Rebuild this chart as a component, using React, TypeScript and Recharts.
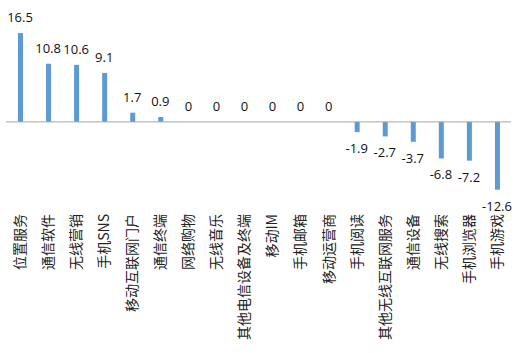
import React from 'react';
import { ComposedChart, Bar, Line, XAxis, YAxis, ReferenceLine } from 'recharts';

const categories = [
  '位置服务', '通信软件', '无线营销', '手机SNS', '移动互联网门户', '通信终端',
  '网络购物', '无线音乐', '其他电信设备及终端', '移动IM', '手机邮箱', '移动运营商',
  '手机阅读', '其他无线互联网服务', '通信设备', '无线搜索', '手机浏览器', '手机游戏',
];
const growth = [16.5, 10.8, 10.6, 9.1, 1.7, 0.9, 0, 0, 0, 0, 0, 0, -1.9, -2.7, -3.7, -6.8, -7.2, -12.6];

const data = categories.map((name, i) => ({ name, value: growth[i] }));

const CategoryTick = (props: any) => {
  const { x, y, payload } = props;
  return (
    <text
      x={x}
      y={y}
      transform={`rotate(-90, ${x}, ${y})`}
      textAnchor="end"
      dy="0.35em"
      fontSize={14}
      fill="#222"
      fontFamily="'Noto Sans CJK SC', 'Noto Sans', sans-serif"
    >
      {payload.value}
    </text>
  );
};

// labels hang off an invisible line so that zero values get one too
const ValueLabel = (props: any) => {
  const { x, y, value } = props;
  const ty = value >= 0 ? y - 11 : y + 21;
  return (
    <text x={x} y={ty} textAnchor="middle" fontSize={13} fill="#111" fontFamily="'Open Sans', sans-serif">
      {value}
    </text>
  );
};

export default function App() {
  return (
    <div style={{ position: 'absolute', left: 0, top: 0, background: '#fff' }}>
      <ComposedChart
        width={518}
        height={353}
        data={data}
        margin={{ top: 25, right: 7, bottom: 0, left: 6 }}
      >
        <YAxis hide domain={[-16, 18]} />
        <XAxis
          dataKey="name"
          axisLine={false}
          tickLine={false}
          tickSize={0}
          tickMargin={6}
          height={145}
          interval={0}
          tick={<CategoryTick />}
        />
        <ReferenceLine y={0} stroke="#a6a6a6" strokeWidth={1} />
        <Bar dataKey="value" fill="#5b9bd5" barSize={5} isAnimationActive={false} />
        <Line
          dataKey="value"
          stroke="none"
          dot={false}
          activeDot={false}
          label={<ValueLabel />}
          isAnimationActive={false}
        />
      </ComposedChart>
    </div>
  );
}
